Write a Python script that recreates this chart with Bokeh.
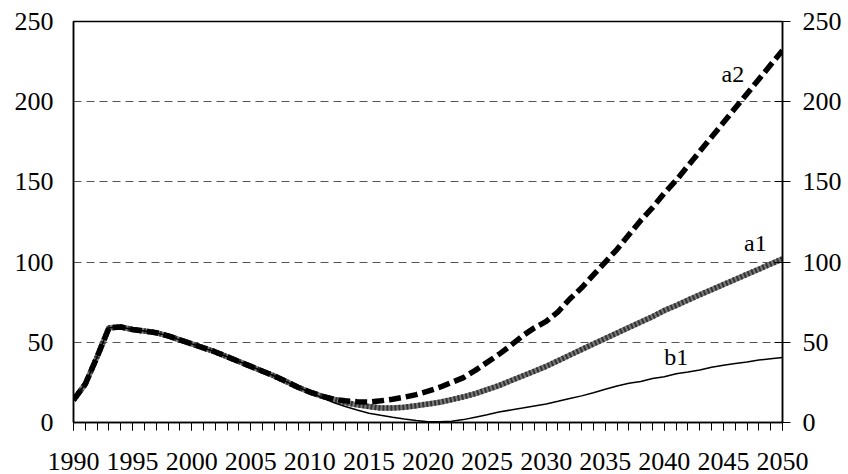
from bokeh.plotting import figure
from bokeh.models import LinearAxis, FixedTicker, Range1d, ColumnDataSource, Label
from bokeh.embed import file_html
from bokeh.resources import INLINE

FONT = "Liberation Serif"

# Years on the horizontal axis
years = list(range(1990, 2051))

# Shared history 1990-2010
history = [14, 24, 41, 59, 59.5, 58, 57, 56, 54, 51.5, 49,
           46.5, 44, 41, 38, 35, 32, 29, 25.5, 22, 19]

# Scenario paths 2011-2050
a2_future = [16.5, 14.5, 13.5, 13, 12.8, 13.5, 14.5, 15.8, 17.4, 19.5,
             22, 25, 28, 32.5, 37.5, 42.5, 48, 54, 59, 63,
             69, 77, 84, 92, 100, 108, 117, 126, 134, 143,
             151, 160, 169, 178, 187, 196, 205, 214, 223, 232]
a1_future = [16.5, 14.5, 12.5, 11, 10, 9, 9, 9.5, 10.5, 11.5,
             12.6, 14.3, 16, 18, 20.5, 23, 26, 29, 32, 35,
             38.5, 42, 45.5, 49, 52.4, 55.8, 59.2, 62.6, 66, 69.8,
             73, 76.3, 79.6, 82.8, 86, 89.2, 92.4, 95.6, 98.8, 102]
b1_future = [15.5, 12.5, 10, 7.8, 5.8, 4.5, 3.3, 2.2, 1.2, 0.5,
             0.4, 0.8, 1.8, 3.3, 4.8, 6.5, 7.8, 9, 10.3, 11.5,
             13.2, 15, 16.6, 18.6, 20.7, 22.8, 24.5, 25.5, 27.4, 28.5,
             30.4, 31.5, 32.7, 34.5, 35.7, 36.8, 37.7, 38.9, 39.8, 40.5]

a2 = history + a2_future
a1 = history + a1_future
b1 = history + b1_future

y_ticks = [0, 50, 100, 150, 200, 250]
x_major = list(range(1990, 2051, 5))

src = ColumnDataSource(dict(year=years, a1=a1, a2=a2, b1=b1))

p = figure(width=848, height=474, output_backend="svg", toolbar_location=None,
           x_range=Range1d(1990, 2050), y_range=Range1d(0, 250),
           min_border_left=73, min_border_right=66, min_border_top=21,
           min_border_bottom=52)
p.background_fill_color = "white"
p.border_fill_color = "white"
p.outline_line_color = "black"
p.outline_line_width = 1.5

# Horizontal dashed gridlines only
p.xgrid.visible = False
p.ygrid.ticker = FixedTicker(ticks=[50, 100, 150, 200])
p.ygrid.grid_line_color = "#555555"
p.ygrid.grid_line_dash = "8 5"
p.ygrid.grid_line_width = 1

# Bottom axis: a tick every year, labels every five years
xa = p.xaxis[0]
xa.ticker = FixedTicker(ticks=x_major, minor_ticks=years)
xa.axis_line_color = "black"
xa.axis_line_width = 1.5
xa.major_tick_in = 0
xa.major_tick_out = 8
xa.minor_tick_in = 0
xa.minor_tick_out = 8
xa.major_tick_line_color = "black"
xa.minor_tick_line_color = "black"
xa.major_label_text_font = FONT
xa.major_label_text_font_size = "26px"
xa.major_label_text_color = "black"
xa.major_label_standoff = 22

# Left axis: labels only
ya = p.yaxis[0]
ya.ticker = FixedTicker(ticks=y_ticks)
ya.axis_line_color = "black"
ya.axis_line_width = 1.5
ya.major_tick_in = 0
ya.major_tick_out = 0
ya.minor_tick_out = 0
ya.minor_tick_in = 0
ya.major_label_text_font = FONT
ya.major_label_text_font_size = "26px"
ya.major_label_text_color = "black"
ya.major_label_standoff = 20

# Right axis with crossing ticks
ra = LinearAxis(ticker=FixedTicker(ticks=y_ticks))
ra.axis_line_color = "black"
ra.axis_line_width = 1.5
ra.major_tick_in = 8
ra.major_tick_out = 8
ra.minor_tick_in = 0
ra.minor_tick_out = 0
ra.major_label_text_font = FONT
ra.major_label_text_font_size = "26px"
ra.major_label_text_color = "black"
ra.major_label_standoff = 12
p.add_layout(ra, "right")

# a1: thick grey textured line
p.line("year", "a1", source=src, line_color="#7a7a7a", line_width=5.5)
p.line("year", "a1", source=src, line_color="#333333", line_width=5.5,
       line_dash="2 2")
# a2: thick black dashed line
p.line("year", "a2", source=src, line_color="black", line_width=5.5,
       line_dash="12 5")
# b1: thin black line
p.line("year", "b1", source=src, line_color="black", line_width=1.5)

for txt, x, y in [("a2", 2045.8, 217), ("a1", 2047.7, 112), ("b1", 2041.0, 41)]:
    p.add_layout(Label(x=x, y=y, text=txt, text_font=FONT,
                       text_font_size="24px", text_color="black",
                       text_align="center", text_baseline="middle"))

open("out.html", "w").write(file_html(p, INLINE))
